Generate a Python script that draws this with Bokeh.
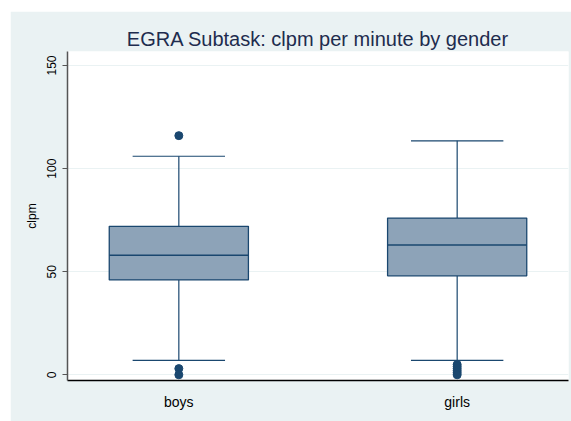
from bokeh.plotting import figure
from bokeh.models import FixedTicker, Range1d, ColumnDataSource
from bokeh.embed import file_html
from bokeh.resources import INLINE

# ---- data ----
categories = ["boys", "girls"]
q1 = [46, 48]
median = [58, 63]
q3 = [72, 76]
lower_whisker = [7, 7]
upper_whisker = [106, 113.5]
boys_outliers = [116, 3, 0]
girls_outliers = [5, 4, 3, 2, 1, 0]
y_ticks = [0, 50, 100, 150]

NAVY = "#1a476f"
FILL = "#8da3b8"
BG = "#eaf2f3"
FONT = "Liberation Sans"

xs = [i + 1 for i in range(len(categories))]

p = figure(width=561, height=410, output_backend="svg", toolbar_location=None,
           x_range=Range1d(0.6, 2.4), y_range=Range1d(-2.76, 156.8),
           min_border_left=57, min_border_right=3, min_border_top=40, min_border_bottom=41)
p.margin = (11, 0, 0, 10)
p.background_fill_color = "white"
p.border_fill_color = BG
p.outline_line_color = None

p.title.text = "EGRA Subtask: clpm per minute by gender"
p.title.align = "center"
p.title.text_font = FONT
p.title.text_font_size = "20px"
p.title.text_font_style = "normal"
p.title.text_color = "#1e2c4e"
p.title.standoff = 3

src = ColumnDataSource(dict(x=xs, q1=q1, med=median, q3=q3, lw=lower_whisker, uw=upper_whisker,
                            cl=[x - 0.166 for x in xs], cr=[x + 0.166 for x in xs],
                            bl=[x - 0.25 for x in xs], br=[x + 0.25 for x in xs]))

# whiskers
p.segment(x0="x", y0="q3", x1="x", y1="uw", source=src, line_color=NAVY, line_width=1.2)
p.segment(x0="x", y0="lw", x1="x", y1="q1", source=src, line_color=NAVY, line_width=1.2)
p.segment(x0="cl", y0="uw", x1="cr", y1="uw", source=src, line_color=NAVY, line_width=1.2)
p.segment(x0="cl", y0="lw", x1="cr", y1="lw", source=src, line_color=NAVY, line_width=1.2)
# boxes
p.vbar(x="x", width=0.5, bottom="q1", top="q3", source=src,
       fill_color=FILL, line_color=NAVY, line_width=1.3)
p.segment(x0="bl", y0="med", x1="br", y1="med", source=src, line_color=NAVY, line_width=1.5)

# outliers
ox = [1] * len(boys_outliers) + [2] * len(girls_outliers)
oy = boys_outliers + girls_outliers
p.scatter(ox, oy, size=8, color=NAVY)

# axes
p.xgrid.grid_line_color = None
p.ygrid.grid_line_color = BG
p.ygrid.grid_line_width = 1
p.ygrid.ticker = FixedTicker(ticks=y_ticks)

p.xaxis.ticker = FixedTicker(ticks=xs)
p.xaxis.major_label_overrides = {x: c for x, c in zip(xs, categories)}
p.xaxis.major_tick_line_color = None
p.xaxis.minor_tick_line_color = None
p.xaxis.axis_line_color = "black"
p.xaxis.axis_line_width = 1.5
p.xaxis.major_label_text_font = FONT
p.xaxis.major_label_text_font_size = "14px"
p.xaxis.major_label_text_color = "black"
p.xaxis.major_label_standoff = 7

p.yaxis.ticker = FixedTicker(ticks=y_ticks)
p.yaxis.axis_label = "clpm"
p.yaxis.axis_label_text_font = FONT
p.yaxis.axis_label_text_font_size = "12px"
p.yaxis.axis_label_text_font_style = "normal"
p.yaxis.axis_label_text_color = "black"
p.yaxis.axis_label_standoff = 6
p.yaxis.major_label_orientation = "vertical"
p.yaxis.major_label_text_font = FONT
p.yaxis.major_label_text_font_size = "12px"
p.yaxis.major_label_text_color = "black"
p.yaxis.major_label_standoff = 6
p.yaxis.axis_line_color = "#555555"
p.yaxis.axis_line_width = 1.5
p.yaxis.major_tick_line_color = "#555555"
p.yaxis.major_tick_out = 5
p.yaxis.major_tick_in = 0
p.yaxis.minor_tick_line_color = None

open("out.html", "w").write(file_html(p, INLINE))
